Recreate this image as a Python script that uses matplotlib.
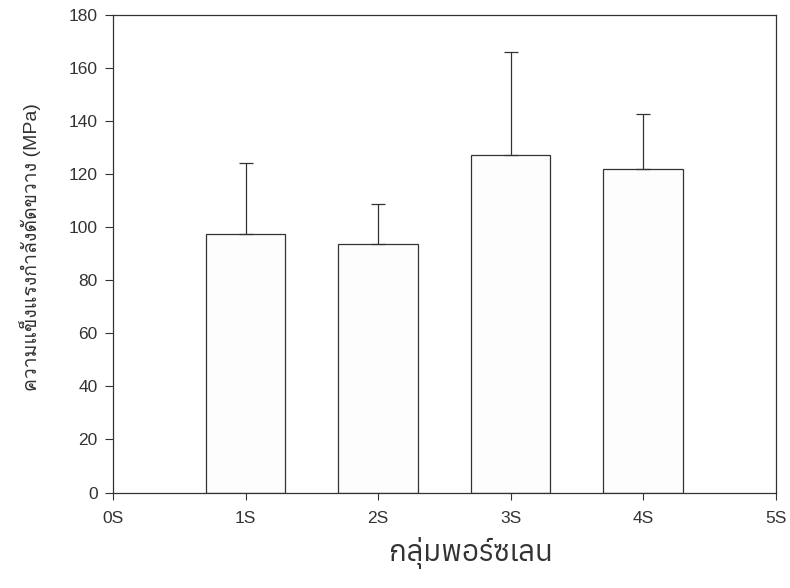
import matplotlib
matplotlib.use("Agg")
import matplotlib.pyplot as plt

categories = ["1S", "2S", "3S", "4S"]
positions = [1, 2, 3, 4]
means = [97.5, 93.5, 127, 122]
errors = [26.5, 15, 39, 20.5]
tick_labels = ["0S", "1S", "2S", "3S", "4S", "5S"]
y_ticks = [0, 20, 40, 60, 80, 100, 120, 140, 160, 180]

plt.rcParams['font.family'] = ['Liberation Sans', 'Loma', 'DejaVu Sans']

fig = plt.figure(figsize=(7.9, 5.88), dpi=100)
ax = fig.add_axes([0.143, 0.1624, 0.839, 0.8129])
ax.bar(positions, means, width=0.6, color="#fdfdfd", edgecolor="#333333", linewidth=0.9,
       yerr=[[0] * len(errors), errors],
       error_kw=dict(ecolor="#333333", elinewidth=0.9, capsize=5, capthick=0.9))
ax.set_xlim(0, 5)
ax.set_ylim(0, 180)
ax.set_xticks(range(len(tick_labels)))
ax.set_xticklabels(tick_labels)
ax.set_yticks(y_ticks)
ax.tick_params(axis='x', labelsize=12.5, colors="#333333", length=5, width=0.8, pad=8.5)
ax.tick_params(axis='y', labelsize=12.5, colors="#333333", length=6, width=0.8, pad=5)
for s in ax.spines.values():
    s.set_color("#333333")
    s.set_linewidth(0.9)
fig.text(471/790, 1-553/588, "กลุ่มพอร์ซเลน", fontsize=21, ha="center", va="center",
         family=['Umpush', 'Anuphan', 'DejaVu Sans'], fontweight='light', color="#333333")
fig.text(30/790, 1-247/588, "ความแข็งแรงกำลังดัดขวาง (MPa)", fontsize=14, rotation=90,
         ha="center", va="center", color="#333333")
fig.savefig("out.png", dpi=100)
